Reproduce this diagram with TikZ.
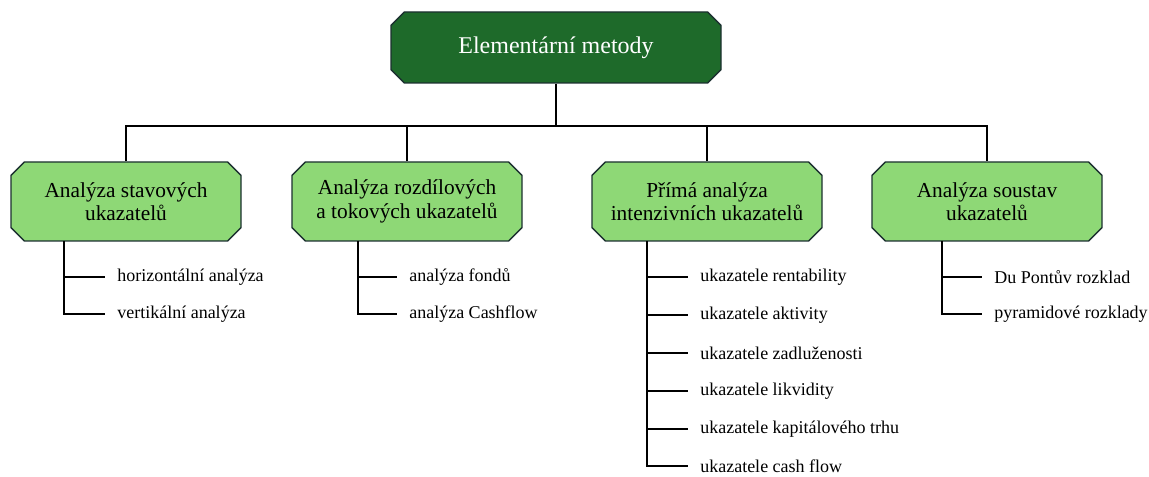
\documentclass[tikz,border=0pt]{standalone}
\usepackage{fontspec}
\setmainfont{Liberation Serif}
\usetikzlibrary{shapes.misc}

\definecolor{darkgreen}{RGB}{30,106,42}
\definecolor{lightgreen}{RGB}{142,216,118}
\definecolor{boxline}{RGB}{28,48,48}

\begin{document}
\begin{tikzpicture}[x=0.75pt,y=-0.75pt]
            \tikzset{
                topnode/.style={draw=boxline, line width=1pt, fill=darkgreen, text=white,
                    chamfered rectangle, chamfered rectangle sep=5pt,
                    minimum width=247.5pt, minimum height=53.25pt,
                    font=\fontsize{18}{20}\selectfont},
                groupnode/.style={draw=boxline, line width=1pt, fill=lightgreen,
                    chamfered rectangle, chamfered rectangle sep=5pt,
                    minimum width=172.5pt, minimum height=59.25pt, align=center,
                    font=\fontsize{16}{17.5}\selectfont},
                leafnode/.style={anchor=west, inner xsep=9pt, inner ysep=0pt,
                    font=\fontsize{13.5}{15}\selectfont},
                link/.style={line width=1.3pt}
            }
            \useasboundingbox (0,0) rectangle (1149,477);

            % top
            \node[topnode] (top) at (556,47.5) {Elementární metody};
            \coordinate (bus) at (556,126);

            % groups
            \node[groupnode] (g1) at (126,201.5) {Analýza stavových\\ukazatelů};
            \node[groupnode] (g2) at (407,201.5) {Analýza rozdílových\\a tokových ukazatelů};
            \node[groupnode] (g3) at (707,201.5) {Přímá analýza\\intenzivních ukazatelů};
            \node[groupnode] (g4) at (987,201.5) {Analýza soustav\\ukazatelů};

            % leaves
            \node[leafnode] (l11) at (105,277) {horizontální analýza};
            \node[leafnode] (l12) at (105,314) {vertikální analýza};

            \node[leafnode] (l21) at (397,277) {analýza fondů};
            \node[leafnode] (l22) at (397,314) {analýza Cashflow};

            \node[leafnode] (l31) at (688,277) {ukazatele rentability};
            \node[leafnode] (l32) at (688,315) {ukazatele aktivity};
            \node[leafnode] (l33) at (688,353) {ukazatele zadluženosti};
            \node[leafnode] (l34) at (688,391) {ukazatele likvidity};
            \node[leafnode] (l35) at (688,429) {ukazatele kapitálového trhu};
            \node[leafnode] (l36) at (688,466) {ukazatele cash flow};

            \node[leafnode] (l41) at (982,277) {Du Pontův rozklad};
            \node[leafnode] (l42) at (982,314) {pyramidové rozklady};

            % stems under the groups
            \coordinate (s1) at (64,241);
            \coordinate (s2) at (358,241);
            \coordinate (s3) at (647,241);
            \coordinate (s4) at (942,241);

            % connectors
            \draw[link] (top.south) -- (bus);
            \draw[link] (g1.north) -- (g1.north |- bus) -- (g4.north |- bus) -- (g4.north);
            \draw[link] (g2.north) -- (g2.north |- bus);
            \draw[link] (g3.north) -- (g3.north |- bus);

            \draw[link] (s1) |- (l12.west);
            \draw[link] (s1 |- l11) -- (l11.west);
            \draw[link] (s2) |- (l22.west);
            \draw[link] (s2 |- l21) -- (l21.west);
            \draw[link] (s3) |- (l36.west);
            \draw[link] (s3 |- l31) -- (l31.west);
            \draw[link] (s3 |- l32) -- (l32.west);
            \draw[link] (s3 |- l33) -- (l33.west);
            \draw[link] (s3 |- l34) -- (l34.west);
            \draw[link] (s3 |- l35) -- (l35.west);
            \draw[link] (s4) |- (l42.west);
            \draw[link] (s4 |- l41) -- (l41.west);
        \end{tikzpicture}
\end{document}
